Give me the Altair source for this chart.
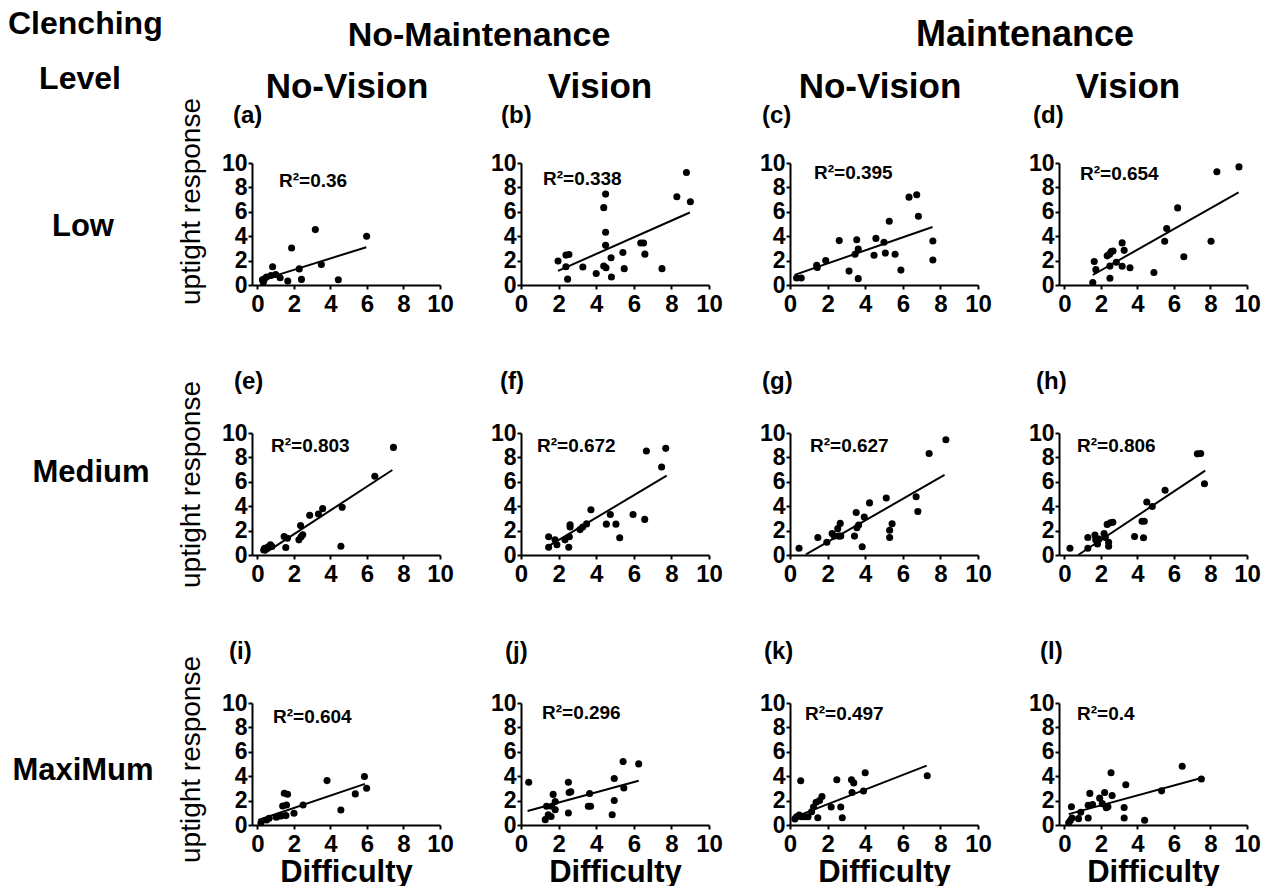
import altair as alt
import pandas as pd

FONT = "Liberation Sans"

# ---------------- data ----------------
panel_letters = ["(a)", "(b)", "(c)", "(d)", "(e)", "(f)", "(g)", "(h)", "(i)", "(j)", "(k)", "(l)"]
r2_labels = ["R²=0.36", "R²=0.338", "R²=0.395", "R²=0.654",
             "R²=0.803", "R²=0.672", "R²=0.627", "R²=0.806",
             "R²=0.604", "R²=0.296", "R²=0.497", "R²=0.4"]
x_ticks = [0, 2, 4, 6, 8, 10]
y_ticks = [0, 2, 4, 6, 8, 10]

# Low / No-Maintenance / No-Vision
a_x = [0.27, 0.32, 0.38, 0.5, 0.74, 0.83, 1.0, 1.24, 1.66, 1.87, 2.29, 2.41, 3.17, 3.5, 4.43, 5.98]
a_y = [0.43, 0.22, 0.5, 0.65, 0.78, 1.5, 0.86, 0.6, 0.32, 3.03, 1.32, 0.46, 4.54, 1.68, 0.43, 4.0]
a_fit_x = [0.2, 5.96]
a_fit_y = [0.4, 3.1]
# Low / No-Maintenance / Vision
b_x = [1.97, 2.39, 2.55, 2.39, 2.48, 3.29, 4.0, 4.5, 4.4, 4.5, 4.5, 4.4, 4.52, 4.79, 4.81, 5.42, 5.49, 6.37, 6.52, 6.59, 7.5, 8.29, 8.8, 9.01]
b_y = [1.96, 2.45, 2.5, 1.5, 0.48, 1.48, 0.94, 7.45, 6.34, 4.33, 3.25, 1.56, 1.42, 2.23, 0.65, 2.66, 1.34, 3.44, 3.44, 2.53, 1.34, 7.23, 9.22, 6.83]
b_fit_x = [1.97, 8.98]
b_fit_y = [1.16, 5.94]
# Low / Maintenance / No-Vision
c_x = [0.35, 0.6, 1.42, 1.45, 1.9, 2.62, 3.14, 3.46, 3.55, 3.63, 3.63, 4.47, 4.57, 5.0, 5.07, 5.28, 5.59, 5.9, 6.33, 6.74, 6.83, 7.6, 7.6]
c_y = [0.57, 0.57, 1.61, 1.43, 2.0, 3.64, 1.14, 2.52, 3.71, 2.94, 0.52, 2.44, 3.82, 3.5, 2.62, 5.22, 2.52, 1.22, 7.2, 7.4, 5.64, 3.61, 2.05]
c_fit_x = [0.25, 7.58]
c_fit_y = [0.83, 4.75]
# Low / Maintenance / Vision
d_x = [1.55, 1.63, 1.72, 2.34, 2.47, 2.49, 2.49, 2.56, 2.66, 2.84, 3.16, 3.27, 3.16, 3.59, 4.9, 5.49, 5.6, 6.2, 6.54, 8.03, 8.35, 9.56]
d_y = [0.21, 1.92, 1.26, 2.39, 2.53, 0.55, 1.55, 2.74, 2.79, 1.87, 3.45, 2.84, 1.53, 1.42, 1.03, 3.58, 4.63, 6.32, 2.32, 3.58, 9.29, 9.68]
d_fit_x = [1.55, 9.54]
d_fit_y = [0.82, 7.6]
# Medium / No-Maintenance / No-Vision
e_x = [0.34, 0.39, 0.57, 0.71, 0.79, 1.46, 1.55, 1.64, 2.27, 2.36, 2.39, 2.48, 2.86, 3.34, 3.57, 4.57, 4.64, 6.43, 7.45]
e_y = [0.41, 0.55, 0.66, 0.83, 0.69, 1.52, 0.61, 1.38, 1.24, 2.42, 1.49, 1.65, 3.25, 3.36, 3.8, 0.72, 3.91, 6.45, 8.82]
e_fit_x = [0.39, 7.39]
e_fit_y = [0.14, 6.97]
# Medium / No-Maintenance / Vision
f_x = [1.47, 1.47, 1.81, 1.91, 2.34, 2.54, 2.61, 2.61, 2.57, 3.14, 3.28, 3.49, 3.72, 4.54, 4.75, 5.05, 5.25, 5.96, 6.58, 6.67, 7.48, 7.7]
f_y = [1.5, 0.63, 1.24, 0.84, 1.24, 0.63, 2.47, 2.29, 1.5, 2.08, 2.29, 2.55, 3.71, 2.53, 3.32, 2.53, 1.42, 3.32, 2.92, 8.53, 7.21, 8.74]
f_fit_x = [1.5, 7.75]
f_fit_y = [0.76, 6.5]
# Medium / Maintenance / No-Vision
g_x = [0.48, 1.48, 1.96, 2.24, 2.35, 2.54, 2.58, 2.67, 2.7, 3.43, 3.52, 3.56, 3.65, 3.84, 3.95, 4.23, 5.12, 5.3, 5.3, 5.43, 6.71, 6.8, 7.4, 8.29]
g_y = [0.56, 1.44, 1.04, 1.76, 1.55, 2.16, 1.55, 2.59, 1.55, 1.55, 3.49, 2.24, 2.45, 0.67, 3.12, 4.27, 4.67, 2.03, 1.44, 2.56, 4.77, 3.57, 8.32, 9.44]
g_fit_x = [0.85, 8.22]
g_fit_y = [0.05, 6.56]
# Medium / Maintenance / Vision
h_x = [0.3, 1.28, 1.28, 1.67, 1.71, 1.81, 1.9, 2.17, 2.24, 2.34, 2.42, 2.42, 2.52, 2.65, 3.84, 4.25, 4.37, 4.33, 4.51, 4.81, 5.51, 7.28, 7.46, 7.67]
h_y = [0.56, 1.44, 0.56, 1.63, 1.25, 0.91, 1.31, 1.76, 1.44, 2.51, 1.04, 0.72, 2.64, 2.69, 1.52, 2.77, 2.77, 1.41, 4.35, 3.97, 5.31, 8.29, 8.32, 5.84]
h_fit_x = [0.75, 7.71]
h_fit_y = [0.0, 6.91]
# MaxiMum / No-Maintenance / No-Vision
i_x = [0.19, 0.5, 0.64, 1.03, 1.17, 1.29, 1.38, 1.47, 1.59, 1.65, 1.56, 2.0, 2.5, 3.81, 4.57, 5.36, 5.86, 5.98]
i_y = [0.19, 0.41, 0.55, 0.63, 0.74, 0.74, 1.56, 2.6, 1.64, 2.52, 0.77, 0.96, 1.64, 3.64, 1.23, 2.55, 3.97, 3.01]
i_fit_x = [0.05, 5.89]
i_fit_y = [0.41, 3.37]
# MaxiMum / No-Maintenance / Vision
j_x = [0.41, 1.29, 1.36, 1.45, 1.6, 1.64, 1.71, 1.82, 1.82, 2.52, 2.52, 2.56, 2.65, 3.58, 3.65, 3.7, 4.85, 4.96, 4.96, 5.43, 5.47, 6.26]
j_y = [3.5, 0.44, 1.54, 0.84, 0.7, 1.54, 2.51, 1.93, 1.25, 3.5, 0.99, 2.66, 2.72, 1.54, 2.58, 1.54, 0.84, 3.81, 2.01, 5.2, 3.03, 5.01]
j_fit_x = [0.35, 6.26]
j_fit_y = [1.15, 3.63]
# MaxiMum / Maintenance / No-Vision
k_x = [0.26, 0.35, 0.49, 0.57, 0.61, 0.78, 0.96, 1.15, 1.25, 1.39, 1.48, 1.57, 1.7, 2.19, 2.49, 2.7, 2.78, 3.27, 3.39, 3.3, 3.91, 4.0, 7.3]
k_y = [0.5, 0.68, 0.82, 3.63, 0.68, 0.68, 0.68, 1.08, 1.47, 1.87, 0.6, 2.0, 2.34, 1.47, 3.71, 1.47, 0.6, 3.71, 3.45, 2.66, 2.79, 4.29, 4.03]
k_fit_x = [0.17, 7.27]
k_fit_y = [0.6, 4.87]
# MaxiMum / Maintenance / Vision
l_x = [0.23, 0.32, 0.38, 0.41, 0.77, 0.89, 1.3, 1.3, 1.39, 1.54, 1.93, 2.07, 2.2, 2.29, 2.38, 2.55, 2.61, 3.27, 3.27, 3.36, 4.39, 5.32, 6.45, 7.5]
l_y = [0.18, 0.37, 1.49, 0.58, 0.52, 1.05, 0.58, 1.62, 2.59, 1.68, 2.2, 1.75, 2.67, 1.41, 1.49, 4.29, 2.41, 1.44, 0.58, 3.3, 0.39, 2.8, 4.82, 3.77]
l_fit_x = [0.23, 7.5]
l_fit_y = [0.89, 3.85]

points = [(a_x, a_y), (b_x, b_y), (c_x, c_y), (d_x, d_y), (e_x, e_y), (f_x, f_y),
          (g_x, g_y), (h_x, h_y), (i_x, i_y), (j_x, j_y), (k_x, k_y), (l_x, l_y)]
fits = [(a_fit_x, a_fit_y), (b_fit_x, b_fit_y), (c_fit_x, c_fit_y), (d_fit_x, d_fit_y),
        (e_fit_x, e_fit_y), (f_fit_x, f_fit_y), (g_fit_x, g_fit_y), (h_fit_x, h_fit_y),
        (i_fit_x, i_fit_y), (j_fit_x, j_fit_y), (k_fit_x, k_fit_y), (l_fit_x, l_fit_y)]

row_labels = ["Low", "Medium", "MaxiMum"]
group_labels = ["No-Maintenance", "Maintenance"]
vision_labels = ["No-Vision", "Vision", "No-Vision", "Vision"]
y_title = "uptight response"
x_title = "Difficulty"

# ---------------- layout (pixels) ----------------
W, H = 188, 122
col_xmin = [-0.3, 0, 0, -0.3]
r2_pos = [(27, 18), (22, 16), (24, 10), (21, 11), (19, 13), (16, 13),
          (20, 13), (18, 13), (21, 14), (21, 10), (15, 11), (18, 11)]
letter_dx = [-19, -20, -28, -26, -18, -21, -28, -23, -23, -16, -26, -19]
letter_y = [-40, -44, -44]
ytitle_y = [38, 51, 56]
row_label_pos = [(-169, 73), (-161, 49), (-169, 77)]
vision_pos = [95, 79, 90, 69]


def text_layer(text, x, y, size, weight="bold", align="center", baseline="alphabetic"):
    df = pd.DataFrame({"label": [text]})
    return alt.Chart(df).mark_text(
        font=FONT, fontSize=size, fontWeight=weight, align=align,
        baseline=baseline, color="black"
    ).encode(x=alt.value(x), y=alt.value(y), text="label:N")


def panel(i):
    r, c = divmod(i, 4)
    px, py = points[i]
    fx, fy = fits[i]
    df = pd.concat([
        pd.DataFrame({"difficulty": px, "uptight": py, "kind": "point"}),
        pd.DataFrame({"difficulty": fx, "uptight": fy, "kind": "fit"}),
    ], ignore_index=True)

    x_axis_kw = dict(values=x_ticks, grid=False, labelFlush=False, labelOverlap=False,
                     domainColor="black", domainWidth=2, tickColor="black", tickWidth=2,
                     tickSize=4, labelFont=FONT, labelFontSize=24, labelFontWeight="bold",
                     labelColor="black", labelPadding=3)
    if r == 2:
        x_axis_kw.update(title=x_title, titleFont=FONT, titleFontSize=31,
                         titleFontWeight="bold", titleColor="black", titlePadding=1)
    else:
        x_axis_kw.update(title=None)
    y_axis_kw = dict(values=y_ticks, grid=False, labelOverlap=False,
                     domainColor="black", domainWidth=2, tickColor="black", tickWidth=2,
                     tickSize=4, labelFont=FONT, labelFontSize=23, labelFontWeight="bold",
                     labelColor="black", labelPadding=1)
    if c == 0:
        y_axis_kw.update(title=y_title, titleFont=FONT, titleFontSize=28,
                         titleFontWeight="normal", titleColor="black", titleAngle=270,
                         titleX=-53, titleY=ytitle_y[r], titleAlign="center",
                         titleBaseline="alphabetic")
    else:
        y_axis_kw.update(title=None)

    base = alt.Chart(df).encode(
        x=alt.X("difficulty:Q", scale=alt.Scale(domain=[col_xmin[c], 10], nice=False, zero=False),
                axis=alt.Axis(**x_axis_kw)),
        y=alt.Y("uptight:Q", scale=alt.Scale(domain=[0, 10], nice=False, zero=False),
                axis=alt.Axis(**y_axis_kw)),
    )
    dots = base.transform_filter(alt.datum.kind == "point").mark_circle(
        size=50, color="black", opacity=1)
    line = base.transform_filter(alt.datum.kind == "fit").mark_line(
        color="black", strokeWidth=2)

    layers = [dots, line,
              text_layer(r2_labels[i], r2_pos[i][0], r2_pos[i][1], 19, align="left", baseline="middle"),
              text_layer(panel_letters[i], letter_dx[i], letter_y[r], 24, align="left")]
    if r == 0:
        layers.append(text_layer(vision_labels[c], vision_pos[c], -65, 35))
        if c == 0:
            layers.append(text_layer("Clenching", -244, -129, 32, align="left"))
            layers.append(text_layer("Level", -172, -74, 32))
            layers.append(text_layer(group_labels[0], 227, -117, 34))
        if c == 2:
            layers.append(text_layer(group_labels[1], 235, -117, 36))
    if c == 0:
        rx, ry = row_label_pos[r]
        layers.append(text_layer(row_labels[r], rx, ry, 31))
    return alt.layer(*layers).properties(width=W, height=H)


chart = alt.concat(
    *[panel(i) for i in range(12)],
    columns=4,
    spacing={"row": 148, "column": 81},
    bounds="flush",
).resolve_scale(x="independent", y="independent").properties(
    padding={"left": 0, "top": 0, "right": 0, "bottom": 0},
    background="white",
).configure_view(stroke=None).configure_axis(labelOverlap=False)

chart.save("out.html", embed_options={"renderer": "svg", "actions": False})
